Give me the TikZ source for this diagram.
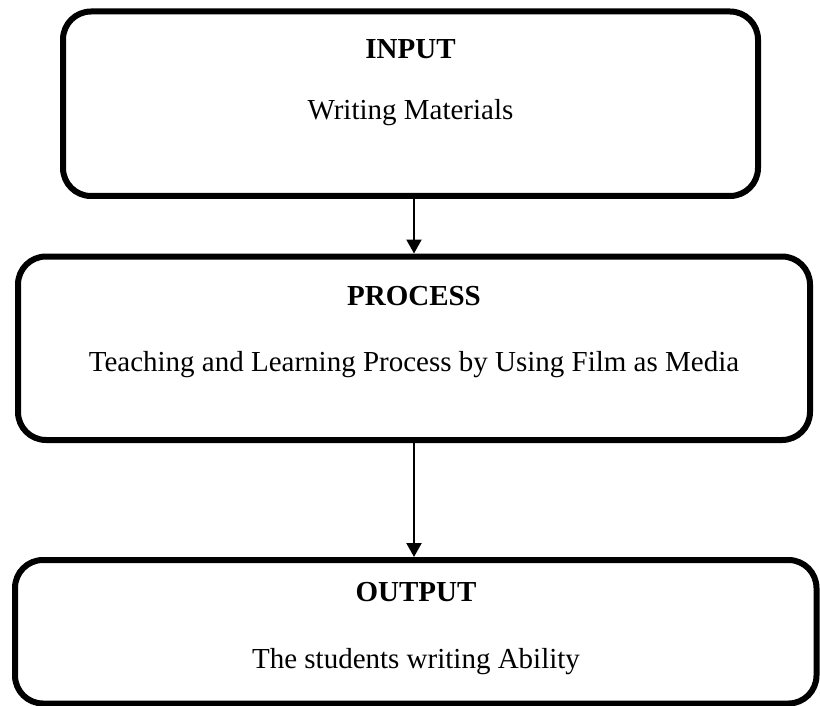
\documentclass[tikz,border=0pt]{standalone}
\usepackage{fontspec}
\setmainfont{Liberation Serif}
\usetikzlibrary{arrows.meta}
\begin{document}
\begin{tikzpicture}[x=1pt,y=-1pt,
  stagebox/.style={draw=black, line width=6pt, rounded corners=28pt,
    inner sep=0pt, outer sep=3pt, fill=none},
  heading/.style={anchor=base, inner sep=0pt,
    font=\fontsize{29}{35}\selectfont\bfseries},
  bodytext/.style={anchor=base, inner sep=0pt,
    font=\fontsize{29}{35}\selectfont},
  flow/.style={line width=2.2pt, -{Triangle[width=15pt,length=14pt]}}]
  \useasboundingbox (0,0) rectangle (820,706);

  % stage frames
  \node[stagebox, minimum width=695pt, minimum height=184.5pt] (box1) at (410.5,103.75) {};
  \node[stagebox, minimum width=792pt, minimum height=183.5pt] (box2) at (414,348.25) {};
  \node[stagebox, minimum width=801.5pt, minimum height=143.5pt] (box3) at (415.75,631.75) {};

  % stage texts
  \node[heading]  (t1) at (410.5,59) {INPUT};
  \node[bodytext] (b1) at (410.5,120) {Writing Materials};
  \node[heading]  (t2) at (414,305) {PROCESS};
  \node[bodytext] (b2) at (414,371) {Teaching and Learning Process by Using Film as Media};
  \node[heading]  (t3) at (416,601) {OUTPUT};
  \node[bodytext] (b3) at (416,668) {The students writing Ability};

  % flow between stages
  \draw[flow] (box2.north |- box1.south) -- (box2.north);
  \draw[flow] (box2.south) -- (box2.south |- box3.north);
\end{tikzpicture}
\end{document}
